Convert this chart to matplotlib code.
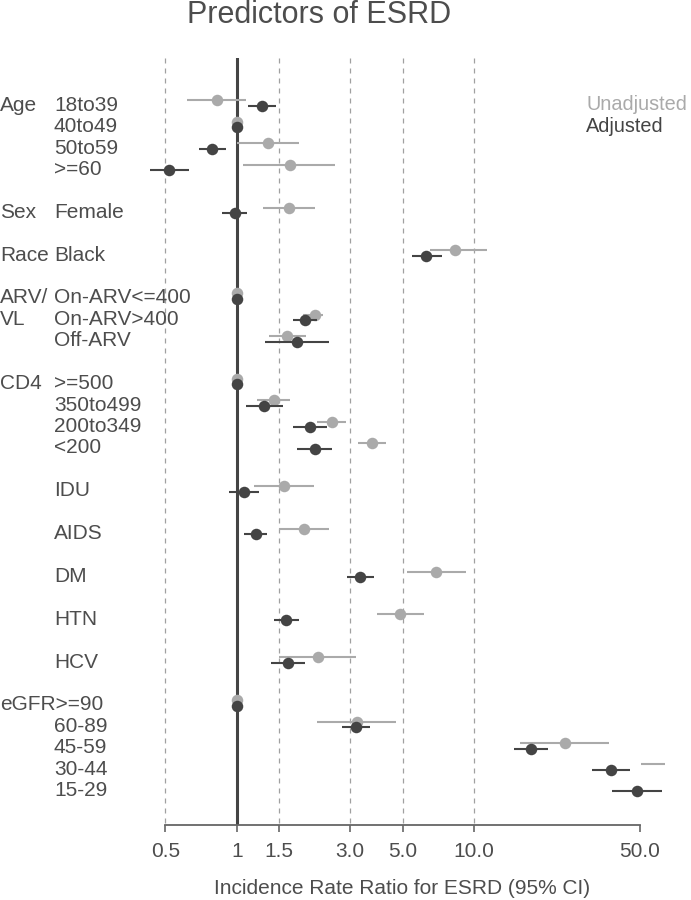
import matplotlib
matplotlib.use("Agg")
import matplotlib.pyplot as plt
from matplotlib.transforms import blended_transform_factory
import numpy as np

plt.rcParams['font.family'] = ['Liberation Sans', 'DejaVu Sans']

# row labels (group label on the left, level label next to it); None = blank row
group_labels = ["Age", "", "", "", None, "Sex", None, "Race", None,
                "ARV/", "VL", "", None, "CD4", "", "", "", None,
                "", None, "", None, "", None, "", None, "", None,
                "eGFR>=90", "", "", "", ""]
level_labels = ["18to39", "40to49", "50to59", ">=60", None, "Female", None, "Black", None,
                "On-ARV<=400", "On-ARV>400", "Off-ARV", None, ">=500", "350to499", "200to349", "<200", None,
                "IDU", None, "AIDS", None, "DM", None, "HTN", None, "HCV", None,
                "", "60-89", "45-59", "30-44", "15-29"]

# incidence rate ratios, in the order of the non-blank rows (nan = reference, no CI)
unadj = [0.825, 1, 1.36, 1.67, 1.66, 8.3, 1, 2.13, 1.63, 1, 1.43, 2.52, 3.70,
         1.58, 1.92, 6.95, 4.89, 2.20, 1, 3.22, 24.1, 75, 120]
unadj_lo = [0.62, np.nan, 1.00, 1.06, 1.29, 6.5, np.nan, 1.90, 1.37, np.nan, 1.22, 2.19, 3.23,
            1.18, 1.51, 5.2, 3.89, 1.51, np.nan, 2.19, 15.6, 50.5, 80]
unadj_hi = [1.09, np.nan, 1.83, 2.60, 2.13, 11.3, np.nan, 2.32, 1.96, np.nan, 1.68, 2.88, 4.24,
            2.12, 2.45, 9.3, 6.18, 3.19, np.nan, 4.70, 37.1, 110, 180]
adj = [1.28, 1, 0.79, 0.52, 0.98, 6.3, 1, 1.94, 1.80, 1, 1.30, 2.04, 2.13,
       1.07, 1.20, 3.32, 1.62, 1.65, 1, 3.17, 17.4, 37.7, 48.6]
adj_lo = [1.12, np.nan, 0.69, 0.43, 0.87, 5.46, np.nan, 1.73, 1.32, np.nan, 1.09, 1.73, 1.80,
          0.93, 1.07, 2.93, 1.44, 1.40, np.nan, 2.77, 14.7, 31.5, 38.1]
adj_hi = [1.47, np.nan, 0.90, 0.63, 1.10, 7.3, np.nan, 2.18, 2.46, np.nan, 1.56, 2.40, 2.53,
          1.24, 1.34, 3.80, 1.83, 1.94, np.nan, 3.65, 20.6, 45.5, 62.0]

ticks = [0.5, 1, 1.5, 3, 5, 10, 50]
tick_labels = ["0.5", "1", "1.5", "3.0", "5.0", "10.0", "50.0"]
ref_lines = [0.5, 1.5, 3, 5, 10]

TXT = "#4d4d4d"
LIGHT = "#aaaaaa"
DARK = "#444444"
FS = 15

W, H = 691, 900
fig = plt.figure(figsize=(W / 100, H / 100), dpi=100)
ax = fig.add_axes([140 / W, 75 / H, (665 - 140) / W, (825 - 58) / H])

rows = [i for i, lab in enumerate(level_labels) if lab is not None]
y = np.array(rows, dtype=float)
ymin, ymax = -2.11, 33.7

for xv in ref_lines:
    ax.plot([xv, xv], [ymin, ymax], color="#a0a0a0", lw=0.9, ls=(0, (4, 4)), zorder=1)
ax.plot([1, 1], [ymin, ymax], color=DARK, lw=2.2, zorder=2)

off = 0.13
ax.hlines(y - off, unadj_lo, unadj_hi, color=LIGHT, lw=1.5, zorder=3)
ax.plot(unadj, y - off, "o", color=LIGHT, ms=8.3, mec="none", zorder=4)
ax.hlines(y + off, adj_lo, adj_hi, color=DARK, lw=1.5, zorder=5)
ax.plot(adj, y + off, "o", color=DARK, ms=8.3, mec="none", zorder=6)

ax.set_xscale("log")
ax.set_xlim(0.391, 63.9)
ax.set_ylim(ymax, ymin)
for s in ["top", "left", "right"]:
    ax.spines[s].set_visible(False)
ax.spines["bottom"].set_bounds(0.5, 50)
ax.spines["bottom"].set_color("#666666")
ax.spines["bottom"].set_linewidth(1.3)
ax.set_yticks([])
ax.xaxis.set_minor_locator(matplotlib.ticker.NullLocator())
ax.set_xticks(ticks)
ax.set_xticklabels(tick_labels)
ax.tick_params(axis="x", length=5, width=1.2, color="#666666", labelsize=FS,
               labelcolor=TXT, pad=7)

# row labels
tr = blended_transform_factory(fig.transFigure, ax.transData)
for i, (g, lab) in enumerate(zip(group_labels, level_labels)):
    if g:
        ax.text(0 / W, i, g, transform=tr, fontsize=FS, color=TXT,
                va="center_baseline", ha="left")
    if lab:
        ax.text(54 / W, i, lab, transform=tr, fontsize=FS, color=TXT,
                va="center_baseline", ha="left")

fig.text(319 / W, 1 - 15 / H, "Predictors of ESRD", fontsize=22, color=TXT,
         ha="center", va="center")
fig.text(586 / W, 1 - 105 / H, "Unadjusted", fontsize=14.3, color=LIGHT, ha="left", va="center")
fig.text(586 / W, 1 - 127 / H, "Adjusted", fontsize=14.3, color=DARK, ha="left", va="center")
fig.text(402 / W, 1 - 888 / H, "Incidence Rate Ratio for ESRD (95% CI)", fontsize=FS,
         color=TXT, ha="center", va="center")

fig.savefig("out.png", dpi=100)
